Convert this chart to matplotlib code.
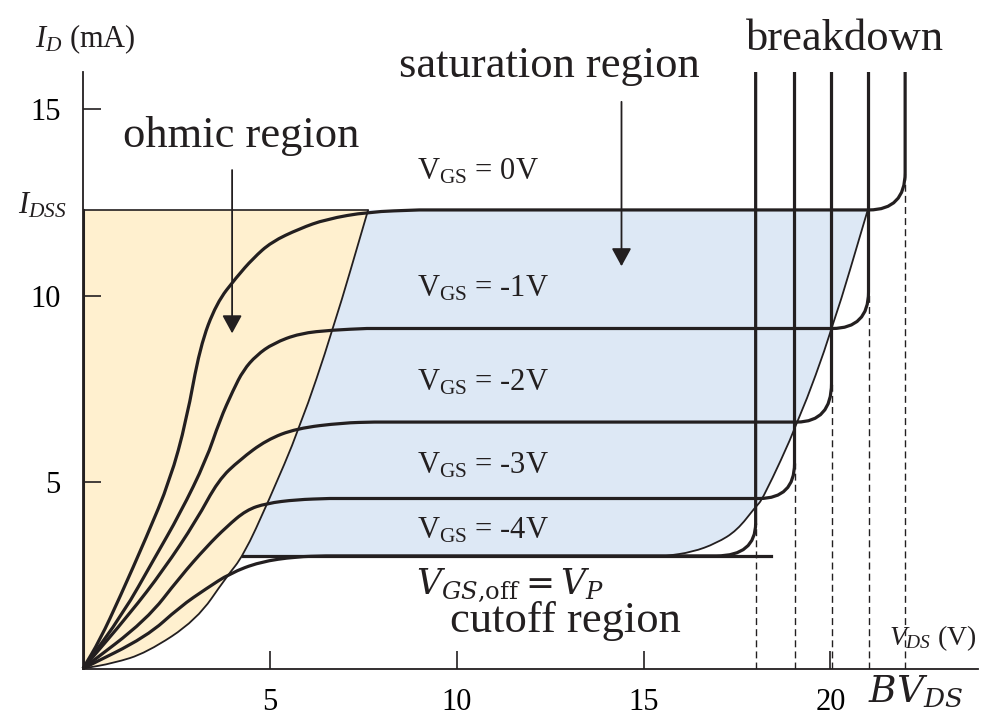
import matplotlib
matplotlib.use("Agg")
import matplotlib.pyplot as plt
from matplotlib.patches import FancyArrowPatch, PathPatch
from matplotlib.path import Path

plt.rcParams["font.family"] = ["Liberation Serif", "DejaVu Serif"]
plt.rcParams["mathtext.fontset"] = "custom"
plt.rcParams["mathtext.rm"] = "Liberation Serif"
plt.rcParams["mathtext.it"] = "Liberation Serif:italic"

# JFET output characteristics, VDS in V, ID in mA
gate_labels = ["0V", "-1V", "-2V", "-3V", "-4V"]
label_id = [13.11, 9.97, 7.47, 5.23, 3.49]
id_top = 16.0
vds_max = 23.95

# ohmic part of each curve, up to where it goes flat
vgs0_vds = [0, 0.45, 0.99, 1.7, 2.33, 2.77, 3.13, 3.57, 4.11, 4.55, 5.04, 5.8, 6.5, 7.63, 9.0]
vgs0_id = [0, 0.76, 1.92, 3.53, 5.05, 6.66, 8.63, 9.8, 10.5, 11.0, 11.44, 11.8, 12.05, 12.25, 12.3]

vgs1_vds = [0, 1.08, 1.88, 2.6, 3.3, 3.66, 4.02, 4.29, 4.64, 5.09, 5.8, 6.69, 7.6]
vgs1_id = [0, 1.48, 2.9, 4.16, 5.6, 6.66, 7.47, 8.0, 8.4, 8.72, 8.99, 9.08, 9.12]

vgs2_vds = [0, 1.26, 2.15, 3.04, 3.62, 4.2, 4.91, 5.71, 6.96, 7.8]
vgs2_id = [0, 1.48, 2.64, 3.98, 5.05, 5.6, 6.13, 6.44, 6.59, 6.61]

vgs3_vds = [0, 1.7, 2.6, 3.31, 3.84, 4.37, 4.91, 5.71, 6.6]
vgs3_id = [0, 1.3, 2.46, 3.27, 3.8, 4.25, 4.43, 4.53, 4.56]

vgs4_vds = [0, 1.7, 2.6, 3.31, 3.93, 4.73, 5.71, 6.5]
vgs4_id = [0, 0.85, 1.66, 2.15, 2.55, 2.86, 3.0, 3.02]

# saturation level, where the breakdown bend starts, breakdown voltage, top of the bend
sat_id = [12.3, 9.12, 6.61, 4.56, 3.02]
knee_vds = [21.03, 20.05, 19.1, 18.1, 16.95]
breakdown_vds = [22.0, 21.02, 20.03, 19.04, 18.0]
knee_top_id = [13.3, 10.1, 7.65, 5.5, 3.9]

# pinch-off locus (ohmic / saturation boundary)
pinch_vds = [0, 0.81, 1.7, 3.04, 3.84, 4.29, 4.97, 5.8, 6.69, 7.63]
pinch_id = [0, 0.14, 0.42, 1.3, 2.46, 3.02, 4.5, 6.45, 9.08, 12.3]

# right edge of the saturation region
sat_edge_vds = [15.6, 16.3, 16.95, 17.5, 18.0, 18.19, 19.15, 20.06, 21.0]
sat_edge_id = [3.02, 3.12, 3.36, 3.7, 4.34, 4.54, 6.62, 9.12, 12.3]

idss = 12.3
vp_line_vds = [4.29, 18.4]
vp_line_id = [3.02, 3.02]

ohmic = [(vgs0_vds, vgs0_id), (vgs1_vds, vgs1_id), (vgs2_vds, vgs2_id),
         (vgs3_vds, vgs3_id), (vgs4_vds, vgs4_id)]

ink = "#231f20"
yellow = "#fff0cf"
blue = "#dde8f5"


def smooth_verts(xs, ys):
    # quadratic pieces through segment midpoints, read points act as control points
    pts = list(zip(xs, ys))
    mids = [((a[0] + b[0]) / 2, (a[1] + b[1]) / 2) for a, b in zip(pts[:-1], pts[1:])]
    verts = [pts[0], mids[0]]
    codes = [Path.MOVETO, Path.LINETO]
    for p, m in zip(pts[1:-1], mids[1:]):
        verts += [p, m]
        codes += [Path.CURVE3, Path.CURVE3]
    verts.append(pts[-1])
    codes.append(Path.LINETO)
    return verts, codes


fig = plt.figure(figsize=(9.9, 7.28), dpi=100)
ax = fig.add_axes([83 / 990, 1 - 668.5 / 728, 895 / 990, 596.5 / 728])
ax.set_xlim(0, vds_max)
ax.set_ylim(0, id_top)

# shaded regions
v1, c1 = smooth_verts(pinch_vds, pinch_id)
yellow_path = Path(v1 + [(0, idss), (0, 0)], c1 + [Path.LINETO, Path.CLOSEPOLY])
ax.add_patch(PathPatch(yellow_path, facecolor=yellow, lw=0, zorder=1))

i0 = pinch_id.index(3.02)
v2, c2 = smooth_verts(pinch_vds[i0:], pinch_id[i0:])
v3, c3 = smooth_verts(sat_edge_vds[::-1], sat_edge_id[::-1])
c3[0] = Path.LINETO
blue_path = Path(v2 + v3 + [v2[0]], c2 + c3 + [Path.CLOSEPOLY])
ax.add_patch(PathPatch(blue_path, facecolor=blue, lw=0, zorder=1))

ax.add_patch(PathPatch(Path(v1, c1), fill=False, color=ink, lw=1.3, zorder=3))
v4, c4 = smooth_verts(sat_edge_vds, sat_edge_id)
ax.add_patch(PathPatch(Path(v4, c4), fill=False, color=ink, lw=1.3, zorder=3))
ax.plot([0, pinch_vds[-1]], [idss, idss], color=ink, lw=1.2, zorder=3)
ax.plot([0, 0], [0, idss], color=ink, lw=2.2, zorder=3)

# breakdown guide lines
for bv, top in zip(breakdown_vds, knee_top_id):
    ax.plot([bv, bv], [0, top], color=ink, lw=1.0, ls=(0, (5, 3)), zorder=2)

# characteristic curves: ohmic rise, flat saturation, bend into breakdown
for (vds, ids), lvl, kx, bv, top in zip(ohmic, sat_id, knee_vds, breakdown_vds, knee_top_id):
    verts, codes = smooth_verts(vds, ids)
    verts += [(kx, lvl), (bv, lvl), (bv, top), (bv, id_top)]
    codes += [Path.LINETO, Path.CURVE3, Path.CURVE3, Path.LINETO]
    ax.add_patch(PathPatch(Path(verts, codes), fill=False, color=ink, lw=2.3,
                           joinstyle="round", capstyle="butt", zorder=4, clip_on=False))
ax.plot(vp_line_vds, vp_line_id, color=ink, lw=2.3, zorder=4)

# axes styling
for s in ["top", "right"]:
    ax.spines[s].set_visible(False)
for s in ["left", "bottom"]:
    ax.spines[s].set_linewidth(1.3)
    ax.spines[s].set_color(ink)
ax.set_xticks([5, 10, 15, 20])
ax.set_yticks([5, 10, 15])
ax.tick_params(direction="in", length=13, width=1.2, color=ink, labelsize=22)
ax.tick_params(axis="x", pad=14)
ax.tick_params(axis="y", pad=16)

# labels
for lab, y in zip(gate_labels, label_id):
    ax.text(8.93, y, r"$\mathrm{V}_{\mathrm{GS}}$ = " + lab, fontsize=22, color=ink,
            ha="left", va="baseline")

ax.text(4.24, 13.98, "ohmic region", fontsize=32, ha="center", va="baseline", color=ink)
ax.text(12.49, 15.86, "saturation region", fontsize=32, ha="center", va="baseline",
        color=ink, clip_on=False)
ax.text(20.4, 16.58, "breakdown", fontsize=32, ha="center", va="baseline", color=ink,
        clip_on=False)
ax.text(12.9, 0.99, "cutoff region", fontsize=32, ha="center", va="baseline", color=ink)
ax.text(11.44, 2.0, r"$V_{GS{,}\mathrm{off}} = V_P$", fontsize=25, ha="center",
        va="baseline", color=ink, math_fontfamily="dejavuserif")
ax.text(21.0, -0.9, r"$BV_{DS}$", fontsize=27, ha="left", va="baseline", color=ink,
        math_fontfamily="dejavuserif", clip_on=False)
ax.text(21.58, 0.63, r"$V_{DS}$ (V)", fontsize=20, ha="left", va="baseline", color=ink,
        clip_on=False)
ax.text(-1.28, 16.67, r"$I_D$ (mA)", fontsize=22, ha="left", va="baseline", color=ink,
        clip_on=False)
ax.text(-0.43, 12.2, r"$I_{DSS}$", fontsize=22, ha="right", va="baseline", color=ink,
        clip_on=False)

# arrows pointing into the regions
for x, y0, y1 in [(3.99, 13.37, 8.99), (14.41, 15.2, 10.79)]:
    ax.add_patch(FancyArrowPatch((x, y0), (x, y1), arrowstyle="-|>,head_length=11,head_width=6",
                                 mutation_scale=1, lw=1.3, color=ink, shrinkA=0, shrinkB=0,
                                 zorder=5))

fig.savefig("out.png", dpi=100)
